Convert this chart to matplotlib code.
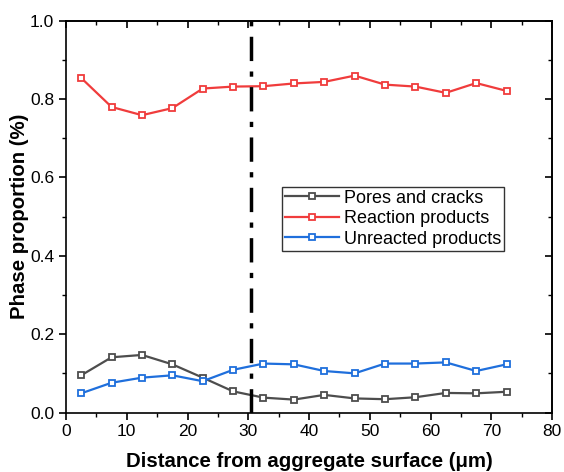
import numpy as np
import matplotlib
matplotlib.use("Agg")
import matplotlib.pyplot as plt

plt.rcParams['font.family'] = ['Liberation Sans', 'DejaVu Sans']

# distance from aggregate surface (um)
distance = [2.5, 7.5, 12.5, 17.5, 22.5, 27.5, 32.5, 37.5, 42.5, 47.5,
            52.5, 57.5, 62.5, 67.5, 72.5]

pores = [0.095, 0.141, 0.147, 0.123, 0.089, 0.054, 0.038, 0.033, 0.045, 0.036,
         0.034, 0.039, 0.050, 0.049, 0.053]
reaction = [0.854, 0.780, 0.759, 0.777, 0.827, 0.832, 0.833, 0.840, 0.844, 0.860,
            0.837, 0.832, 0.816, 0.841, 0.821]
unreacted = [0.049, 0.076, 0.089, 0.095, 0.080, 0.109, 0.125, 0.123, 0.106, 0.100,
             0.125, 0.125, 0.128, 0.106, 0.123]

boundary = 30.5

fig = plt.figure(figsize=(5.64, 4.72), dpi=100)
ax = fig.add_axes([0.117, 0.126, 0.862, 0.830])

style = dict(marker='s', markersize=5, markerfacecolor='white',
             markeredgewidth=1.3, linewidth=1.6)
ax.plot(distance, pores, color='#4d4d4d', label='Pores and cracks', **style)
ax.plot(distance, reaction, color='#f03c3c', label='Reaction products', **style)
ax.plot(distance, unreacted, color='#1f6fdc', label='Unreacted products', **style)

ax.axvline(boundary, color='black', linewidth=2.5, linestyle=(0, (7, 3, 1.5, 3)))

ax.set_xlim(0, 80)
ax.set_ylim(0, 1.0)
ax.set_xticks(np.arange(0, 81, 10))
ax.set_xticks(np.arange(5, 80, 10), minor=True)
ax.set_yticks(np.arange(0, 1.01, 0.2))
ax.set_yticks(np.arange(0.1, 1.0, 0.2), minor=True)
ax.yaxis.set_major_formatter(matplotlib.ticker.FormatStrFormatter('%.1f'))
ax.tick_params(which='major', direction='out', length=5, width=1.2, labelsize=12.5)
ax.tick_params(which='minor', direction='out', length=3, width=1.0)

# mirrored ticks pointing inward on top and right
top = ax.secondary_xaxis('top')
top.set_xticks(np.arange(0, 81, 10))
top.set_xticks(np.arange(5, 80, 10), minor=True)
top.tick_params(which='major', direction='in', length=5, width=1.2, labeltop=False)
top.tick_params(which='minor', direction='in', length=3, width=1.0)
right = ax.secondary_yaxis('right')
right.set_yticks(np.arange(0, 1.01, 0.2))
right.set_yticks(np.arange(0.1, 1.0, 0.2), minor=True)
right.tick_params(which='major', direction='in', length=5, width=1.2, labelright=False)
right.tick_params(which='minor', direction='in', length=3, width=1.0)

for sp in ax.spines.values():
    sp.set_linewidth(1.2)
top.spines['top'].set_linewidth(1.2)
right.spines['right'].set_linewidth(1.2)

ax.set_xlabel('Distance from aggregate surface (μm)', fontsize=14.7, fontweight='bold', labelpad=9)
ax.set_ylabel('Phase proportion (%)', fontsize=14.7, fontweight='bold', labelpad=1)

leg = ax.legend(loc='upper left', bbox_to_anchor=(0.444, 0.576), borderaxespad=0,
                fontsize=13, frameon=True, fancybox=False, edgecolor='black',
                handlelength=3.0, handletextpad=0.3, borderpad=0.15, labelspacing=0.2)
leg.get_frame().set_linewidth(1.0)

fig.savefig('out.png', dpi=100)
